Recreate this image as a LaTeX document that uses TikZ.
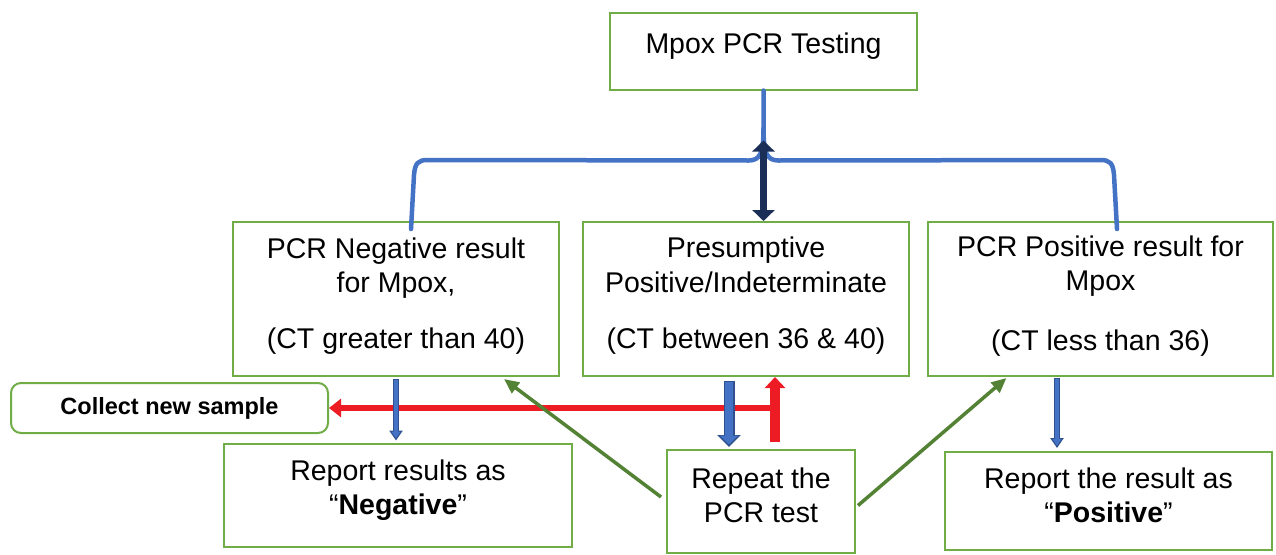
\documentclass[tikz,border=0pt]{standalone}
\usepackage{fontspec}
\setmainfont{Liberation Sans}
\usetikzlibrary{arrows.meta,calc}
\definecolor{boxgreen}{HTML}{70AD47}
\definecolor{bracebl}{HTML}{4472C4}
\definecolor{navy}{HTML}{1A2E57}
\definecolor{blueA}{HTML}{4472C4}
\definecolor{bluedark}{HTML}{2F528F}
\definecolor{redA}{HTML}{ED1C24}
\definecolor{greenA}{HTML}{548235}
\newcommand\lowpad[1]{\rule[-#1]{0pt}{#1}}
\begin{document}
\begin{tikzpicture}[x=1pt,y=-1pt,
  box/.style={draw=boxgreen, line width=2pt, fill=white, align=center, inner sep=0pt,
    font=\fontsize{28.5}{34.5}\selectfont},
  brace/.style={draw=bracebl, line width=4.5pt, line cap=round, line join=round},
  dbl/.style={draw=navy, line width=7pt, {Triangle[width=22pt,length=11pt]}-{Triangle[width=22pt,length=11pt]}},
  thinout/.style={draw=bluedark, line width=6pt, -{Triangle[width=13pt,length=10pt]}},
  thinin/.style={draw=blueA, line width=3.4pt, -{Triangle[width=8.5pt,length=6.5pt]}, shorten >=2.3pt, shorten <=1.2pt},
  wideout/.style={draw=bluedark, line width=11pt, -{Triangle[width=23pt,length=12pt]}},
  widein/.style={draw=blueA, line width=8.5pt, -{Triangle[width=18pt,length=9pt]}, shorten >=2.5pt, shorten <=1.2pt},
  redarrow/.style={draw=redA},
  greenarrow/.style={draw=greenA, line width=3.5pt, -{Triangle[width=13pt,length=15pt]}}
]
\useasboundingbox (0,0) rectangle (1276,554);

% boxes
\node[box, minimum width=307pt, minimum height=77pt] (testing) at (763.5,51) {Mpox PCR Testing\lowpad{15.6pt}};
\node[box, minimum width=326pt, minimum height=154pt] (neg) at (396,299)
  {PCR Negative result\\for Mpox,\\[21pt](CT greater than 40)\lowpad{11.8pt}};
\node[box, minimum width=326pt, minimum height=154pt] (pres) at (746,299)
  {Presumptive\\Positive/Indeterminate\\[22pt](CT between 36 \& 40)\lowpad{11.9pt}};
\node[box, minimum width=345pt, minimum height=154pt] (pos) at (1100.5,299)
  {PCR Positive result for\\Mpox\\[25pt](CT less than 36)\lowpad{12.4pt}};
\node[box, rounded corners=10pt, minimum width=317pt, minimum height=50pt,
  font=\bfseries\fontsize{23.5}{27}\selectfont] (collect) at (169.5,408) {Collect new sample};
\node[box, minimum width=348pt, minimum height=103pt] (repneg) at (398,495)
  {Report results as\\“\textbf{Negative}”\lowpad{15.9pt}};
\node[box, minimum width=188pt, minimum height=103pt] (repeat) at (761,501.5)
  {Repeat the\\PCR test\lowpad{12.3pt}};
\node[box, minimum width=327pt, minimum height=98pt] (reppos) at (1108.5,501)
  {Report the result as\\“\textbf{Positive}”\lowpad{11.3pt}};

% brace
\coordinate (stem) at ([yshift=-38pt]testing.south);
\draw[brace] (testing.south) -- (stem)
  .. controls ([yshift=-24pt]stem) and ([xshift=-3pt,yshift=-32pt]stem) .. ([xshift=-15pt,yshift=-32pt]stem)
  -- (428,160) .. controls (418,160) and (415,163) .. (414,175)
  -- ([xshift=15pt,yshift=-8pt]neg.north);
\draw[brace] (stem)
  .. controls ([yshift=-24pt]stem) and ([xshift=3pt,yshift=-32pt]stem) .. ([xshift=15pt,yshift=-32pt]stem)
  -- (1100,160) .. controls (1110,160) and (1113,163) .. (1114,175)
  -- ([xshift=16.5pt,yshift=-8pt]pos.north);

% double arrow
\draw[dbl] ([yshift=-50pt]testing.south) -- (testing.south |- pres.north);

% red arrows
\coordinate (redbase) at ([xshift=14pt,yshift=7pt]repeat.north);
\coordinate (redj) at (redbase |- collect.east);
\draw[redarrow, line width=10pt, -{Triangle[width=20pt,length=11pt]}] (redbase) -- (redbase |- pres.south);
\draw[redarrow, line width=6pt, -{Triangle[width=18pt,length=12pt]}] ([xshift=3pt]redj) -- (collect.east);

% blue down arrows
\draw[thinout] ([yshift=-2pt]neg.south) -- ([yshift=2pt]neg.south |- repneg.north);
\draw[thinin] ([yshift=-2pt]neg.south) -- ([yshift=2pt]neg.south |- repneg.north);
\coordinate (midtop) at ([xshift=-17pt,yshift=-4pt]pres.south);
\draw[wideout] (midtop) -- ([yshift=2pt]midtop |- repeat.north);
\draw[widein] (midtop) -- ([yshift=2pt]midtop |- repeat.north);
\coordinate (rtop) at ([xshift=-43.5pt,yshift=-1pt]pos.south);
\draw[thinout] (rtop) -- ([yshift=3pt]rtop |- reppos.north);
\draw[thinin] (rtop) -- ([yshift=3pt]rtop |- reppos.north);

% green arrows
\draw[greenarrow] ([xshift=-5pt,yshift=4.5pt]repeat.west) -- ([xshift=108pt,yshift=-2pt]neg.south);
\draw[greenarrow] ([xshift=2pt,yshift=-4pt]repeat.east) -- ([xshift=-94pt,yshift=-1pt]pos.south);
\end{tikzpicture}
\end{document}
